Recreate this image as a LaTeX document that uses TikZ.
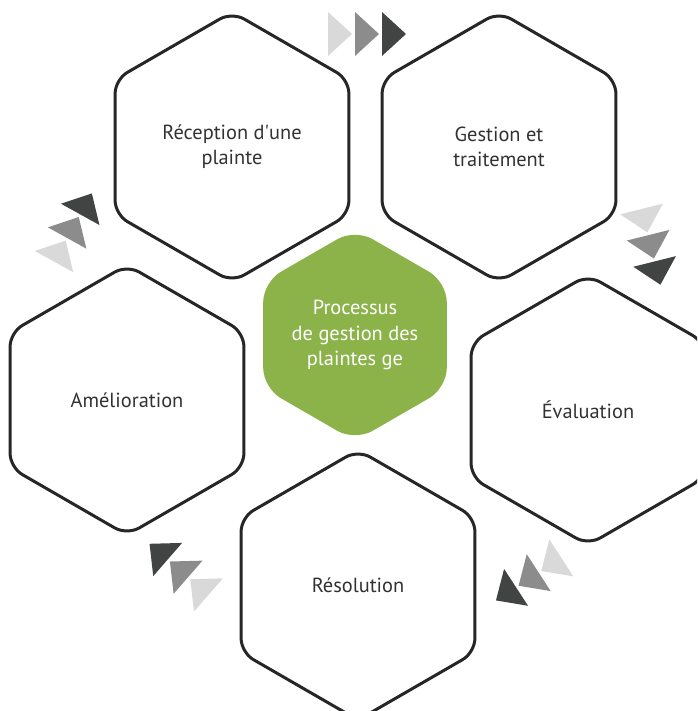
\documentclass[tikz,border=0pt]{standalone}
\usepackage{fontspec}
\setmainfont{PT Sans}
\usetikzlibrary{shapes.geometric}
\definecolor{leafgreen}{RGB}{139,179,74}
\definecolor{inkgrey}{RGB}{38,38,38}
\definecolor{txtgrey}{RGB}{50,50,50}
\definecolor{trilight}{RGB}{217,217,217}
\definecolor{trimid}{RGB}{140,140,140}
\definecolor{tridark}{RGB}{66,68,68}
\tikzset{
    hexa/.style={regular polygon, regular polygon sides=6, shape border rotate=30, minimum size=135pt,
        inner sep=0pt, draw=inkgrey, line width=1.5pt, rounded corners=7pt, text=txtgrey, align=center,
        font=\fontsize{10.2}{12.6}\selectfont},
    hexcentre/.style={hexa, draw=none, fill=leafgreen, minimum size=106pt, rounded corners=10pt, text=white}
}
\begin{document}
\begin{tikzpicture}[x=0.5pt, y=-0.5pt]
                        \clip (0,0) rectangle (697,711);
                        \node[hexa] (recep) at (232,147) {Réception d\textquotesingle une\\plainte};
                        \node[hexa] (gest) at (499,147) {Gestion et\\traitement};
                        \node[hexa] (eval) at (588,410) {Évaluation};
                        \node[hexa] (resol) at (358,585) {Résolution};
                        \node[hexa] (amel) at (127,400) {Amélioration};
                        \node[hexcentre] (proc) at (355,335) {Processus\\de gestion des\\plaintes ge};

                        \foreach \pos/\ang in {{363,34}/0, {650,243}/-76, {532,577}/213, {182,572}/139, {71,231}/61}
                            \foreach \c [count=\i] in {trilight,trimid,tridark}
                                \fill[\c, shift={(\pos)}, rotate=\ang]
                                ({(\i-2)*27-8},-22) -- ({(\i-2)*27+16},0) -- ({(\i-2)*27-8},22) -- cycle;
                    \end{tikzpicture}
\end{document}
